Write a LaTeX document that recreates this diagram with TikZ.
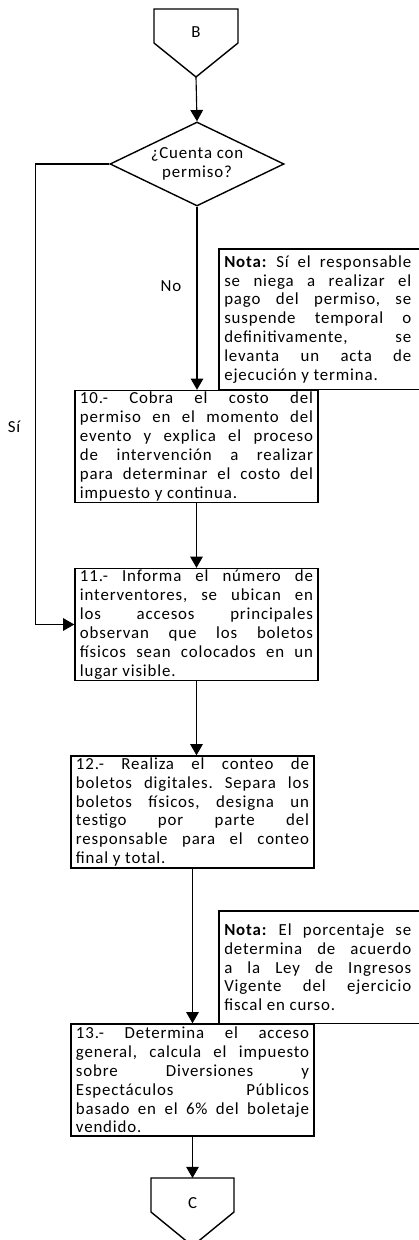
\documentclass[tikz,border=0pt]{standalone}
\usepackage{fontspec}
\setmainfont{Carlito}[LetterSpace=5]
\usetikzlibrary{shapes.geometric}
\usetikzlibrary{positioning}
\usetikzlibrary{arrows.meta}
\frenchspacing

\tikzset{
  procbox/.style={draw, line width=1pt, rectangle, text width=5.825cm,
    inner xsep=0.125cm, inner ysep=1pt, minimum height=2.8cm, align=justify},
  notebox/.style={rectangle, text width=4.675cm, inner xsep=0.125cm,
    inner ysep=1pt, align=justify},
  decision/.style={draw, line width=1pt, diamond, aspect=2, minimum width=4.35cm,
    minimum height=2.1cm, inner sep=0pt, align=center},
  offpage/.style={line width=1pt},
  flowline/.style={line width=0.8pt, -{Triangle[length=8pt,width=9pt]}},
}

\begin{document}
\begin{tikzpicture}[x=0.025cm, y=-0.025cm, font=\fontsize{12}{13.4}\selectfont]

\useasboundingbox (0,0) rectangle (419,1240);

%---------------------------------------
% Off-page connector B
%---------------------------------------
\draw[offpage] (154,9) -- (238,9) -- (238,43) -- (196,77) -- (154,43) -- cycle;
\node (offB) at (196,32) {B};
\coordinate (tipB) at (196,77);

%---------------------------------------
% Decision
%---------------------------------------
\node[decision] (dec) at (197,164) {¿Cuenta con\\permiso?};

\node (lblNo) at (171,286) {No};
\node (lblSi) at (14,427) {Sí};

% Note on refusal
\node[notebox, anchor=north west, minimum height=3.5cm] (nota1) at (219,249)
  {\textbf{Nota:} Sí el responsable\linebreak se niega a realizar el\linebreak
   pago del permiso, se\linebreak suspende temporal o\linebreak
   definitivamente, se\linebreak levanta un acta de\linebreak ejecución y termina.};
\draw[line width=1pt] (nota1.north west) rectangle ([xshift=0.2cm]nota1.south east);

%---------------------------------------
% Steps 10 - 13
%---------------------------------------
\node[procbox] (act10) at (196.5,446.5)
  {10.- Cobra el costo del\linebreak permiso en el momento del\linebreak
   evento y explica el proceso\linebreak de intervención a realizar\linebreak
   para determinar el costo del\linebreak impuesto y continua.};

\node[procbox] (act11) at (196.5,624.5)
  {11.- Informa el número de\linebreak interventores, se ubican en\linebreak
   los accesos principales\linebreak observan que los boletos\linebreak
   físicos sean colocados en un\linebreak lugar visible.};

\node[procbox] (act12) at (192.5,812)
  {12.- Realiza el conteo de\linebreak boletos digitales. Separa los\linebreak
   boletos físicos, designa un\linebreak testigo por parte del\linebreak
   responsable para el conteo\linebreak final y total.};

% Note on percentage
\node[notebox, anchor=north west, minimum height=2.8cm] (nota2) at (219,911)
  {\textbf{Nota:} El porcentaje se\linebreak determina de acuerdo\linebreak
   a la Ley de Ingresos\linebreak Vigente del ejercicio\linebreak fiscal en curso.};
\draw[line width=1pt] (nota2.north west) rectangle ([xshift=0.2cm]nota2.south east);

\node[procbox] (act13) at (192.5,1080)
  {13.- Determina el acceso\linebreak general, calcula el impuesto\linebreak
   sobre Diversiones y\linebreak Espectáculos Públicos\linebreak
   basado en el 6\% del boletaje\linebreak vendido.};

%---------------------------------------
% Off-page connector C
%---------------------------------------
\draw[offpage] (151,1178) -- (234,1178) -- (234,1212) -- (192.5,1246) -- (151,1212) -- cycle;
\node (offC) at (192.5,1203) {C};
\coordinate (topC) at (192.5,1178);

%---------------------------------------
% Connectors
%---------------------------------------
\draw[flowline] (tipB) -- (dec.north);
\draw[flowline] (dec.south) -- (dec.south |- act10.north);
\draw[flowline] (dec.west) -- ++(-74,0) |- (act11.west);
\draw[flowline] (act10.south) -- (act11.north);
\draw[flowline] (act11.south) -- (act11.south |- act12.north);
\draw[flowline] (act12.south) -- (act13.north);
\draw[flowline] (act13.south) -- (topC);

\end{tikzpicture}
\end{document}
